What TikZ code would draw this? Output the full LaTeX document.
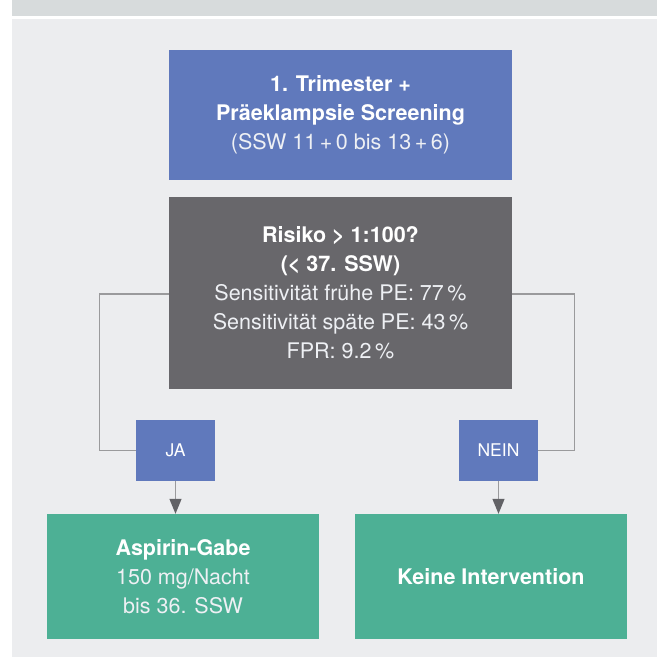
\documentclass[tikz,border=0pt]{standalone}
\usepackage{fontspec}
\setmainfont{TeX Gyre Heros}
\usetikzlibrary{arrows.meta}
\pgfdeclarelayer{bg}
\pgfsetlayers{bg,main}
\definecolor{hdr}{HTML}{D7DBDC}
\definecolor{bgc}{HTML}{ECEDEF}
\definecolor{bluebox}{HTML}{6079BC}
\definecolor{greybox}{HTML}{68676B}
\definecolor{greenbox}{HTML}{4DB095}
\definecolor{linec}{HTML}{9A9A9C}
\definecolor{tipc}{HTML}{626266}
\definecolor{lighttxt}{HTML}{EEF0F4}
\tikzset{
  box/.style={inner sep=0pt, align=center, text=white, font=\fontsize{21.5}{29}\selectfont},
  bluestep/.style={box, fill=bluebox, minimum width=343pt, minimum height=130pt},
  greystep/.style={box, fill=greybox, minimum width=343pt, minimum height=192pt},
  tagbox/.style={box, fill=bluebox, minimum width=79pt, minimum height=61pt, font=\fontsize{17.5}{20}\selectfont},
  endbox/.style={box, fill=greenbox, minimum width=272pt, minimum height=125pt},
  conn/.style={draw=linec, line width=1.3pt},
  arr/.style={conn, -{Triangle[width=12pt,length=15pt,fill=tipc,color=tipc]}},
}
\newcommand{\lt}[1]{{\color{lighttxt}#1}}
\begin{document}
\begin{tikzpicture}[x=1pt,y=-1pt]
\useasboundingbox (0,0) rectangle (657,657);
\fill[white] (0,0) rectangle (657,657);
\fill[hdr] (12,0) rectangle (657,16);
\fill[bgc] (12,19) rectangle (657,657);

\node[bluestep] (top) at (340.5,115) {\textbf{1. Trimester +}\\\textbf{Präeklampsie Screening}\\\lt{(SSW 11\,+\,0 bis 13\,+\,6)}};
\node[greystep] (risk) at (340.5,293) {\textbf{Risiko > 1:100?}\\\textbf{(< 37. SSW)}\\\lt{Sensitivität frühe PE: 77\,\%}\\\lt{Sensitivität späte PE: 43\,\%}\\\lt{FPR: 9.2\,\%}};
\node[tagbox] (ja) at (175.5,450.5) {JA};
\node[tagbox] (nein) at (498.5,450.5) {NEIN};
\node[endbox] (aspirin) at (183,576.5) {\textbf{Aspirin-Gabe}\\\lt{150 mg/Nacht}\\\lt{bis 36. SSW}};
\node[endbox] (keine) at (491,576.5) {\textbf{Keine Intervention}};

\begin{pgfonlayer}{bg}
\draw[arr] (top.south) -- ([yshift=14pt]risk.north);
\end{pgfonlayer}
\draw[conn] ([yshift=-1pt]risk.west) -- ++(-69,0) |- (ja.west);
\draw[conn] ([yshift=-1pt]risk.east) -- ++(62,0) |- (nein.east);
\draw[arr] (ja.south) -- (ja.south |- aspirin.north);
\draw[arr] (nein.south) -- (nein.south |- keine.north);
\end{tikzpicture}
\end{document}
